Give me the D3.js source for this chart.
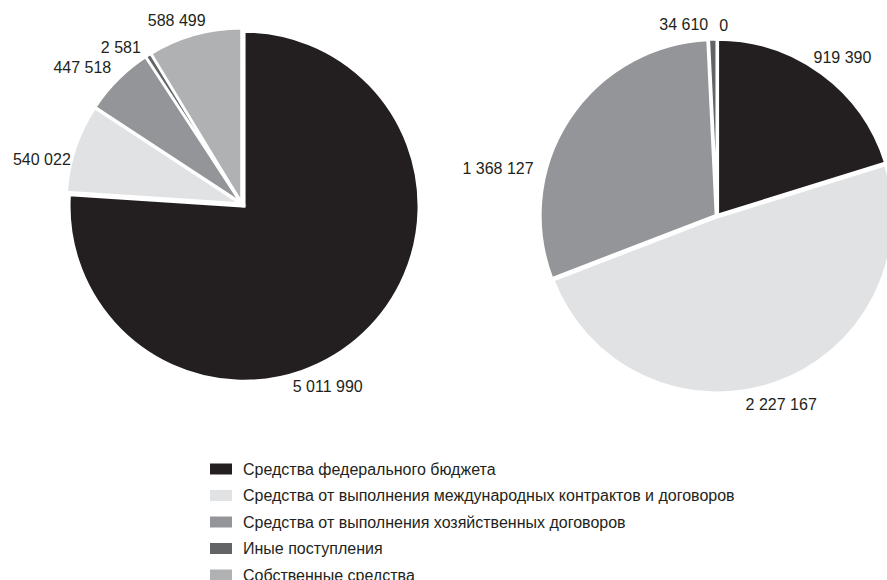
<!doctype html>
<html lang="ru">
<head>
<meta charset="UTF-8" />
<script src="https://d3js.org/d3.v7.min.js"></script>
<style>
  body { margin: 0; background: #fff; }
  text { font-family: "Liberation Sans", Arial, sans-serif; fill: #231f20; }
</style>
</head>
<body>
<div id="chart"></div>
<script>
// categories (legend order)
const categories = [
  "Средства федерального бюджета",
  "Средства от выполнения международных контрактов и договоров",
  "Средства от выполнения хозяйственных договоров",
  "Иные поступления",
  "Собственные средства"
]
// values for the two pies
const leftValues = [5011990, 540022, 447518, 2581, 588499]
const rightValues = [919390, 2227167, 1368127, 34610, 0]

const colors = ["#231f20", "#e1e2e3", "#939598", "#636466", "#b0b1b3"]

// label layout: angle nudge (deg) from slice middle and label radius
const leftLabelNudge = [18, -6, -5, -5.5, -3.5]
const leftLabelRadius = [202, 205, 210, 198, 195]
const rightLabelNudge = [2, 0.3, -21, -8.5, 2]
const rightLabelRadius = [202, 199, 224, 194, 191]

const fmt = v => d3.format(",")(v).replace(/,/g, " ")

const W = 887, H = 580
const svg = d3.select("#chart").append("svg")
  .attr("width", W).attr("height", H)

const color = d3.scaleOrdinal().domain(d3.range(categories.length)).range(colors)
const pie = d3.pie().sort(null).value(d => d.value)
const minAngle = 0.035  // tiny slices still drawn as a visible sliver

function drawPie(values, cx, cy, r, nudge, labelR, explode) {
  const data = values.map((v, i) => ({ value: v, i }))
  const arcs = pie(data)
  const arc = d3.arc().innerRadius(0).outerRadius(r)
  const g = svg.append("g").attr("transform", `translate(${cx},${cy})`)

  // normal slices first, slivers on top
  const drawn = arcs.filter(d => d.value > 0).map(d => {
    const span = d.endAngle - d.startAngle
    if (span >= minAngle) return { ...d, small: false }
    const mid = (d.startAngle + d.endAngle) / 2
    return { ...d, startAngle: mid - minAngle / 2, endAngle: mid + minAngle / 2, small: true }
  }).sort((a, b) => a.small - b.small)

  g.selectAll("path")
    .data(drawn)
    .enter()
    .append("path")
    .attr("d", arc)
    .attr("fill", d => color(d.data.i))
    .attr("stroke", "#fff")
    .attr("stroke-width", 3)
    .attr("stroke-linejoin", "miter")
    .attr("transform", d => {
      const off = explode[d.data.i] || 0
      const mid = (d.startAngle + d.endAngle) / 2
      return `translate(${off * Math.sin(mid)},${-off * Math.cos(mid)})`
    })

  g.selectAll("text.lbl")
    .data(arcs)
    .enter()
    .append("text")
    .attr("class", "lbl")
    .attr("text-anchor", "middle")
    .attr("dominant-baseline", "central")
    .attr("font-size", "16px")
    .attr("x", d => {
      const a = (d.startAngle + d.endAngle) / 2 + nudge[d.data.i] * Math.PI / 180
      return labelR[d.data.i] * Math.sin(a)
    })
    .attr("y", d => {
      const a = (d.startAngle + d.endAngle) / 2 + nudge[d.data.i] * Math.PI / 180
      return -labelR[d.data.i] * Math.cos(a)
    })
    .text(d => fmt(d.data.value))
}

drawPie(leftValues, 242, 204, 175, leftLabelNudge, leftLabelRadius, [3, 1, 1, 1, 1])
drawPie(rightValues, 717, 216, 176, rightLabelNudge, rightLabelRadius, [1, 1, 1, 1, 1])

// legend
const ly = d3.scaleLinear().domain([0, categories.length - 1]).range([469, 575])
const legend = svg.append("g")
const rows = legend.selectAll("g")
  .data(categories)
  .enter()
  .append("g")
  .attr("transform", (d, i) => `translate(210,${ly(i)})`)

rows.append("rect")
  .attr("x", 0).attr("y", -5.5)
  .attr("width", 22).attr("height", 11)
  .attr("fill", (d, i) => color(i))

rows.append("text")
  .attr("x", 33)
  .attr("dominant-baseline", "central")
  .attr("font-size", "16px")
  .text(d => d)
</script>
</body>
</html>
